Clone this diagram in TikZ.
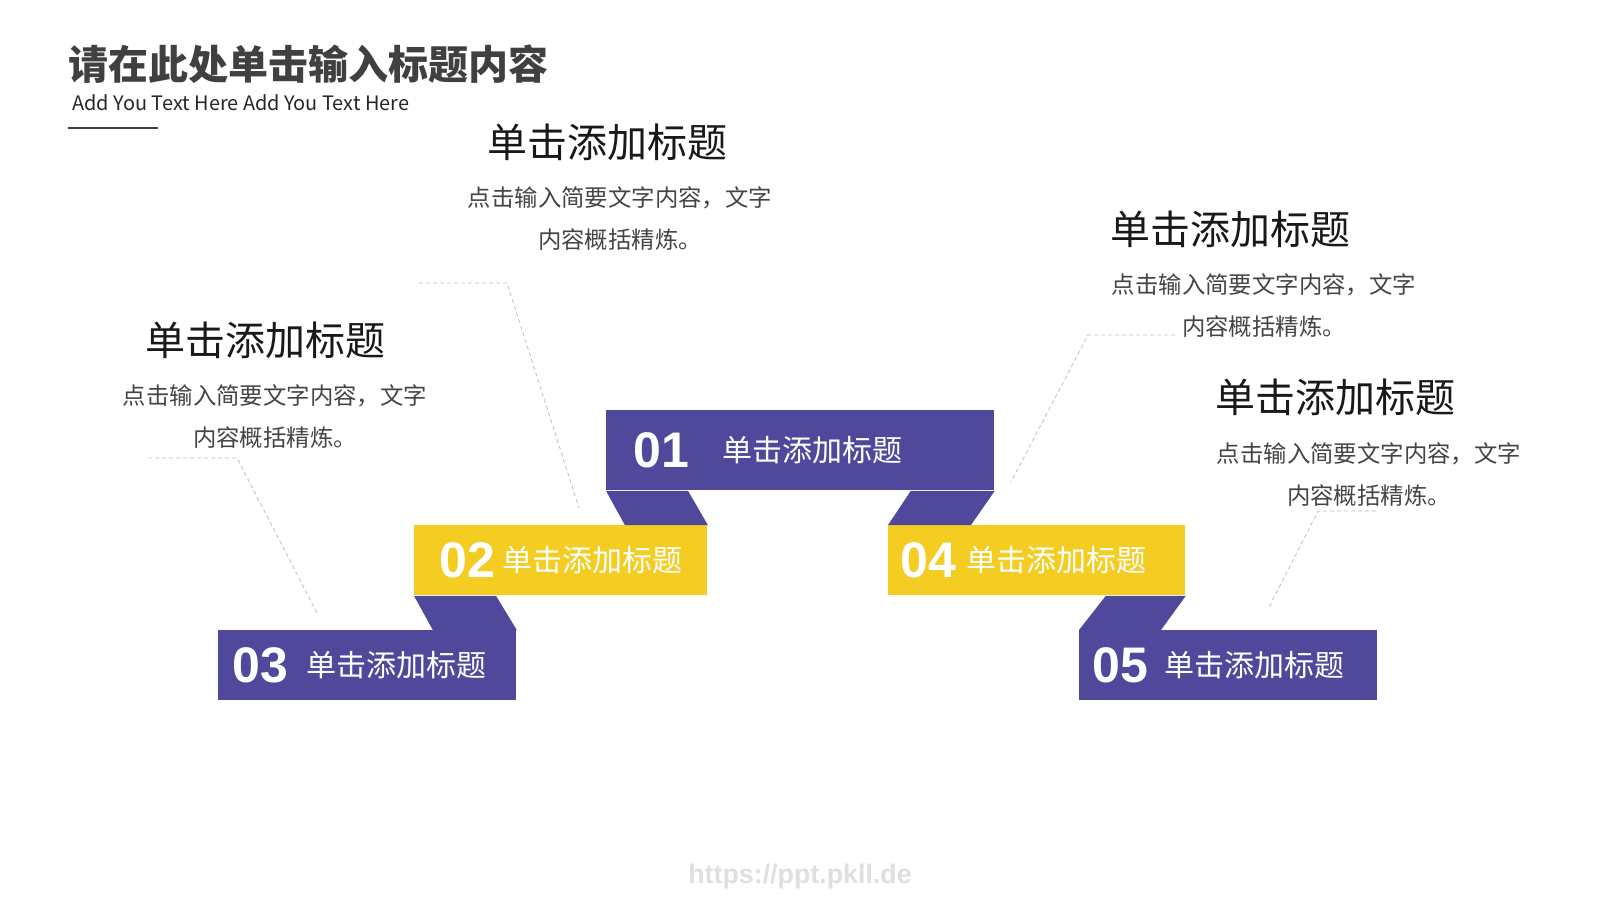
\documentclass[tikz,border=0pt]{standalone}
\usepackage{fontspec}
\setmainfont{Liberation Sans}
\newfontfamily\cjk{Noto Sans CJK SC}
\usetikzlibrary{positioning, calc}
\definecolor{ribbonpurple}{RGB}{80, 72, 155}
\definecolor{ribbonyellow}{RGB}{244, 204, 34}
\definecolor{titlegray}{RGB}{64, 64, 64}
\definecolor{descgray}{RGB}{68, 68, 68}
\definecolor{leadergray}{RGB}{190, 190, 190}

\tikzset{
  bar/.style={anchor=north west, inner sep=0pt, minimum height=35pt},
  barnum/.style={anchor=west, inner sep=0pt, text=white, font=\bfseries\fontsize{25}{25}\selectfont},
  barlabel/.style={anchor=west, inner sep=0pt, text=white, font=\cjk\fontsize{15}{15}\selectfont},
  head/.style={inner sep=0pt, text=black!90, font=\cjk\fontsize{20}{24}\selectfont},
  desc/.style={inner sep=0pt, align=center, text=descgray, font=\cjk\fontsize{11.7}{21}\selectfont},
  leader/.style={leadergray, line width=0.4pt, dash pattern=on 2pt off 1.5pt}
}

\begin{document}
\begin{tikzpicture}[x=0.5pt, y=-0.5pt]
  \useasboundingbox (0,0) rectangle (1600,900);
  % title block
  \node[inner sep=0pt, text=titlegray, font=\cjk\bfseries\fontsize{20}{24}\selectfont] (title) at (308,64) {请在此处单击输入标题内容};
  \node[anchor=west, inner sep=0pt, text=black!85, font=\cjk\fontsize{9.95}{12}\selectfont] (subtitle) at (72,103) {Add You Text Here Add You Text Here};
  \coordinate (ruleL) at (68,128);
  \coordinate (ruleR) at (158,128);
  \draw[titlegray, line width=0.6pt] (ruleL) -- (ruleR);

  % ribbon bars
  \node[bar, fill=ribbonpurple, minimum width=194pt, minimum height=40pt] (b1) at (606,410) {};
  \node[bar, fill=ribbonyellow, minimum width=146.5pt] (b2) at (414,525) {};
  \node[bar, fill=ribbonpurple, minimum width=149pt] (b3) at (218,630) {};
  \node[bar, fill=ribbonyellow, minimum width=148.5pt] (b4) at (888,525) {};
  \node[bar, fill=ribbonpurple, minimum width=149pt] (b5) at (1079,630) {};

  % folds
  \fill[ribbonpurple] (b1.south west) -- ++(82,0) -- (b2.north east) -- ++(-83,0) -- cycle;
  \fill[ribbonpurple] (b2.south west) -- ++(82,0) -- (b3.north east) -- ++(-84,0) -- cycle;
  \fill[ribbonpurple] (b1.south east) -- ++(-84,0) -- (b4.north west) -- ++(83,0) -- cycle;
  \fill[ribbonpurple] (b4.south east) -- ++(-80,0) -- (b5.north west) -- ++(82,0) -- cycle;

  \foreach \i/\nm/\nx/\lx in {1/01/27/116, 2/02/25/88, 3/03/14/88, 4/04/12/78, 5/05/13/85} {
    \node[barnum] (n\i) at ($(b\i.west)+(\nx,0)$) {\nm};
    \node[barlabel] (l\i) at ($(b\i.west)+(\lx,0)$) {单击添加标题};
  }

  % text blocks
  \node[head] (hA) at (607,142) {单击添加标题};
  \node[desc] (dA) at (620,219) {点击输入简要文字内容，文字\\内容概括精炼。};
  \node[head] (hB) at (265,340) {单击添加标题};
  \node[desc] (dB) at (275,417) {点击输入简要文字内容，文字\\内容概括精炼。};
  \node[head] (hC) at (1230,229) {单击添加标题};
  \node[desc] (dC) at (1264,306) {点击输入简要文字内容，文字\\内容概括精炼。};
  \node[head] (hD) at (1335,397) {单击添加标题};
  \node[desc] (dD) at (1369,475) {点击输入简要文字内容，文字\\内容概括精炼。};

  % leaders
  \coordinate (A1) at (419,283); \coordinate (A2) at (507,283); \coordinate (A3) at (579,508);
  \coordinate (B1) at (148,458); \coordinate (B2) at (237,458); \coordinate (B3) at (317,613);
  \coordinate (C1) at (1175,335); \coordinate (C2) at (1088,335); \coordinate (C3) at (1011,482);
  \coordinate (D1) at (1376,511); \coordinate (D2) at (1318,511); \coordinate (D3) at (1268,609);
  \foreach \p in {A,B,C,D} \draw[leader] (\p1) -- (\p2) -- (\p3);

  \node[text=gray!25, font=\bfseries\fontsize{13.4}{14}\selectfont] (mark) at (800,877) {https://ppt.pkll.de};
\end{tikzpicture}
\end{document}
